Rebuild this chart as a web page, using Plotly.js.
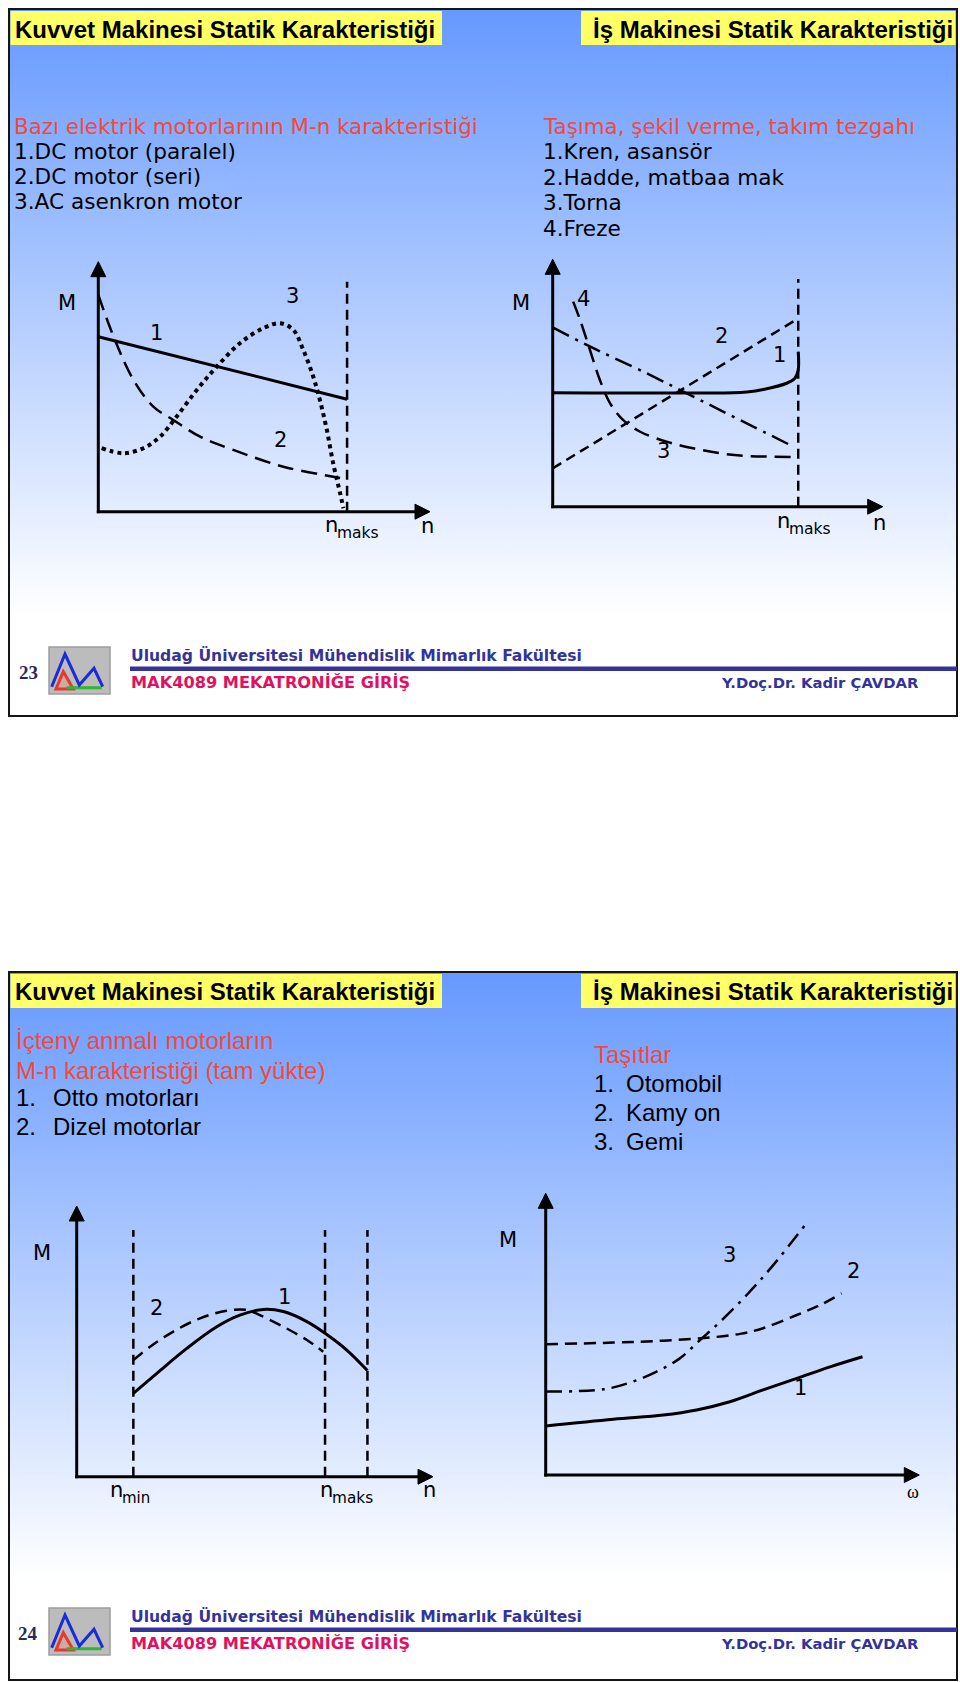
<!DOCTYPE html>
<html>
<head>
<meta charset="utf-8">
<script src="https://cdn.plot.ly/plotly-3.0.1.min.js"></script>
<style>
  html, body { margin:0; padding:0; background:#ffffff; }
  #wrap { position:relative; width:960px; height:1682px; overflow:hidden; }
  .slide { position:absolute; left:8px; width:950px; box-sizing:border-box;
           border:2.5px solid #151515;
           background:linear-gradient(to bottom, #6699ff 0%, #ffffff 86%, #ffffff 100%); }
  #plot { position:absolute; left:0; top:0; width:960px; height:1682px; }
</style>
</head>
<body>
<div id="wrap">
  <div class="slide" style="top:8px;height:709px;"></div>
  <div class="slide" style="top:971px;height:710px;"></div>
  <div id="plot"></div>
</div>
<script>
// ---------------- DATA ----------------
// Slide texts
const slideTitlesLeft  = "Kuvvet Makinesi Statik Karakteristiği";
const slideTitlesRight = "İş Makinesi Statik Karakteristiği";
const s1LeftHeader = "Bazı elektrik motorlarının M-n karakteristiği";
const s1LeftItems  = ["1.DC motor (paralel)", "2.DC motor (seri)", "3.AC asenkron motor"];
const s1RightHeader = "Taşıma, şekil verme, takım tezgahı";
const s1RightItems  = ["1.Kren, asansör", "2.Hadde, matbaa mak", "3.Torna", "4.Freze"];
const s2LeftHeader = ["İçteny anmalı motorların", "M-n karakteristiği (tam yükte)"];
const s2LeftNums   = ["1.", "2."];
const s2LeftItems  = ["Otto motorları", "Dizel motorlar"];
const s2RightHeader = "Taşıtlar";
const s2RightNums   = ["1.", "2.", "3."];
const s2RightItems  = ["Otomobil", "Kamy on", "Gemi"];
const footerUni  = "Uludağ Üniversitesi Mühendislik Mimarlık Fakültesi";
const footerCourse = "MAK4089 MEKATRONİĞE GİRİŞ";
const footerAuthor = "Y.Doç.Dr. Kadir ÇAVDAR";
const pageNumbers = ["23", "24"];

// Chart 1: electric motors M-n (n: 0..100, M: 0..100)
const c1_n_dcParalel = [0, 75];
const c1_M_dcParalel = [70, 45];
const c1_n_dcSeri = [0, 5, 10.6, 16.6, 22.6, 30.7, 40.7, 55.8, 70.8, 74.9];
const c1_M_dcSeri = [86.7, 68.7, 52.7, 42, 36.7, 30, 24.7, 18, 14, 13];
const c1_n_ac = [1, 7.5, 13.6, 18.6, 23.6, 29.7, 35.7, 42.7, 49.7, 54.8, 58.8, 61.8, 64.8, 66.8, 68.9, 70.8, 72.9, 73.9];
const c1_M_ac = [25.4, 23.4, 25.4, 30, 38, 48.7, 58, 67.4, 73.4, 75.4, 72.7, 64.7, 54, 44.7, 32.7, 19.4, 7.4, 1.4];
const c1_nMaks = 75, c1_top = 92;

// Chart 2: working machines M-n
const c2_n_kren = [0, 54.7, 58.8, 63.8, 70.9, 73.4, 74.4, 74.4];
const c2_M_kren = [46.1, 46.1, 46.4, 47.4, 49.9, 51.9, 55.3, 62.7];
const c2_n_hadde = [0, 74.4];
const c2_M_hadde = [15.5, 76.1];
const c2_n_torna = [6.2, 8.3, 11.3, 14.3, 17.4, 21.4, 26.5, 34.5, 42.6, 50.7, 58.8, 66.8, 74.4];
const c2_M_torna = [82.9, 75.5, 63.3, 51.2, 41.8, 35, 30.3, 26.3, 23.6, 21.6, 20.5, 20.2, 20.0];
const c2_n_freze = [0, 10.3, 28.5, 42.6, 56.8, 72.9];
const c2_M_freze = [72.5, 65.4, 53.9, 44.5, 35, 24.3];
const c2_nMaks = 74.4, c2_top = 92;

// Chart 3: internal combustion engines
const c3_n_otto = [15.9, 22.5, 30.9, 39.3, 45.8, 52.4, 58, 64.6, 69.7, 75.8, 81.6];
const c3_M_otto = [30.8, 38.2, 47.4, 55.4, 59.7, 61.8, 61, 57.3, 53, 46.8, 39.2];
const c3_n_dizel = [15.9, 20.6, 27.1, 34.6, 42.1, 47.7, 51.4, 58, 64.6, 69.2];
const c3_M_dizel = [43.1, 48, 53.6, 58.5, 61.3, 61.6, 59.7, 55.4, 50.5, 46.2];
const c3_verticals = [15.9, 69.7, 81.6], c3_top = 91.1;

// Chart 4: vehicles M-omega
const c4_w_oto = [0, 18.1, 31.5, 40.4, 49.3, 58.2, 67.2, 76.1, 84.8];
const c4_M_oto = [17.4, 19.8, 21.3, 23.1, 26, 30.2, 34.3, 38.4, 42];
const c4_w_kamyon = [0, 18.1, 31.5, 43.1, 52, 58.2, 67.2, 73.4, 79.2];
const c4_M_kamyon = [46.4, 47, 47.7, 48.7, 50.1, 52.1, 56.8, 60.3, 64.5];
const c4_w_gemi = [0, 15.4, 22.6, 29.7, 35.9, 41.3, 46.7, 53.8, 60.9, 69.4];
const c4_M_gemi = [29.6, 30.4, 32.8, 36.7, 41.4, 47.9, 54.4, 63.9, 74.5, 88.7];

// ---------------- LAYOUT HELPERS ----------------
const W = 960, H = 1682;
const X = p => p / W;
const Y = p => 1 - p / H;

// chart frames: origin (ox,oy) and arrow tips (xt,yt), in page pixels
const frames = [
  {ox: 98.3,  oy: 511.7,  xt: 430,   yt: 261.7,  xa: 'x',  ya: 'y'},
  {ox: 552.7, oy: 506.7,  xt: 882.7, yt: 259.3,  xa: 'x2', ya: 'y2'},
  {ox: 76.7,  oy: 1476.7, xt: 433,   yt: 1206,   xa: 'x3', ya: 'y3'},
  {ox: 545.7, oy: 1475,   xt: 919.3, yt: 1193.3, xa: 'x4', ya: 'y4'}
];

const layout = {
  width: W, height: H,
  margin: {l: 0, r: 0, t: 0, b: 0},
  paper_bgcolor: 'rgba(0,0,0,0)',
  plot_bgcolor: 'rgba(0,0,0,0)',
  showlegend: false,
  shapes: [], annotations: []
};

frames.forEach((f, i) => {
  const sx = (f.xt - f.ox) / 100, sy = (f.oy - f.yt) / 100;
  const k = i === 0 ? '' : String(i + 1);
  layout['xaxis' + k] = {domain: [X(f.ox - 10 * sx), X(f.ox + 110 * sx)], range: [-10, 110],
    visible: false, fixedrange: true, anchor: 'y' + k};
  layout['yaxis' + k] = {domain: [Y(f.oy + 10 * sy), Y(f.oy - 110 * sy)], range: [-10, 110],
    visible: false, fixedrange: true, anchor: 'x' + k};
  // axes with arrows
  layout.shapes.push({type: 'line', xref: 'paper', yref: 'paper', x0: X(f.ox), y0: Y(f.oy + 1.5), x1: X(f.ox), y1: Y(f.yt + 12), line: {color: '#000', width: 3}});
  layout.shapes.push({type: 'line', xref: 'paper', yref: 'paper', x0: X(f.ox - 1.5), y0: Y(f.oy), x1: X(f.xt - 12), y1: Y(f.oy), line: {color: '#000', width: 3}});
  layout.shapes.push({type: 'path', xref: 'paper', yref: 'paper', fillcolor: '#000', line: {color: '#000', width: 1},
    path: `M ${X(f.ox)},${Y(f.yt)} L ${X(f.ox - 7.5)},${Y(f.yt + 15)} L ${X(f.ox + 7.5)},${Y(f.yt + 15)} Z`});
  layout.shapes.push({type: 'path', xref: 'paper', yref: 'paper', fillcolor: '#000', line: {color: '#000', width: 1},
    path: `M ${X(f.xt)},${Y(f.oy)} L ${X(f.xt - 15)},${Y(f.oy - 7.5)} L ${X(f.xt - 15)},${Y(f.oy + 7.5)} Z`});
});

function txt(px, py, text, o) {
  o = o || {};
  layout.annotations.push({
    xref: 'paper', yref: 'paper', x: X(px), y: Y(py), text: text, showarrow: false,
    xanchor: o.anchor || 'left', yanchor: 'middle',
    font: {family: o.family || 'DejaVu Sans', size: o.size || 21, color: o.color || '#000', weight: o.weight || 'normal'}
  });
}
// "n" with a lowered, smaller subscript word
function nSub(nx, ny, word, subSize) {
  txt(nx, ny, 'n', {size: 21});
  txt(nx + 12, ny + 8, word, {size: subSize});
}

// ---------------- TRACES ----------------
const traces = [];
function line(xs, ys, f, w, dash, shape) {
  traces.push({x: xs, y: ys, xaxis: f.xa, yaxis: f.ya, mode: 'lines', hoverinfo: 'skip',
    line: {color: '#000', width: w, dash: dash, shape: shape || 'spline', smoothing: 1}});
}
const F = frames;
// chart 1
line(c1_n_dcParalel, c1_M_dcParalel, F[0], 3, 'solid', 'linear');
line(c1_n_dcSeri, c1_M_dcSeri, F[0], 2.5, '16px,8px');
line(c1_n_ac, c1_M_ac, F[0], 4, 'dot');
line([c1_nMaks, c1_nMaks], [0, c1_top], F[0], 2.5, '10px,6px', 'linear');
// chart 2
line(c2_n_kren, c2_M_kren, F[1], 3, 'solid');
line(c2_n_hadde, c2_M_hadde, F[1], 2.5, '10px,6px', 'linear');
line(c2_n_torna, c2_M_torna, F[1], 2.5, '16px,8px');
line(c2_n_freze, c2_M_freze, F[1], 2.5, '18px,7px,3px,7px');
line([c2_nMaks, c2_nMaks], [0, c2_top], F[1], 2.5, '10px,6px', 'linear');
// chart 3
line(c3_n_otto, c3_M_otto, F[2], 3, 'solid');
line(c3_n_dizel, c3_M_dizel, F[2], 2.5, '12px,7px');
c3_verticals.forEach(v => line([v, v], [0, c3_top], F[2], 2.5, '10px,6px', 'linear'));
// chart 4
line(c4_w_oto, c4_M_oto, F[3], 3, 'solid');
line(c4_w_kamyon, c4_M_kamyon, F[3], 2.5, '12px,7px');
line(c4_w_gemi, c4_M_gemi, F[3], 2.5, '16px,7px,3px,7px');

// ---------------- SLIDE DECOR + TEXT ----------------
const slideOffsets = [0, 963];
const footerOffsets = [0, 961];
const titleFont = {family: 'Liberation Sans', size: 24, weight: 'bold'};

slideOffsets.forEach((d, s) => {
  // yellow title boxes
  layout.shapes.push({type: 'rect', xref: 'paper', yref: 'paper', x0: X(10.5), x1: X(442), y0: Y(11 + d), y1: Y(45 + d),
    fillcolor: '#ffff66', line: {width: 0}, layer: 'below'});
  layout.shapes.push({type: 'rect', xref: 'paper', yref: 'paper', x0: X(581), x1: X(955.5), y0: Y(11 + d), y1: Y(45 + d),
    fillcolor: '#ffff66', line: {width: 0}, layer: 'below'});
  txt(13, 29 + d, slideTitlesLeft, {family: titleFont.family, size: titleFont.size, weight: titleFont.weight});
  txt(955, 29 + d, slideTitlesRight, {family: titleFont.family, size: titleFont.size, weight: titleFont.weight, anchor: 'right'});

  // footer
  const e = footerOffsets[s];
  txt(28, 672 + e, pageNumbers[s], {family: 'Liberation Serif', size: 19, weight: 'bold', color: '#2a2a55', anchor: 'center'});
  // logo
  layout.shapes.push({type: 'rect', xref: 'paper', yref: 'paper', x0: X(49), x1: X(110), y0: Y(647 + e), y1: Y(694 + e),
    fillcolor: '#bcbcbc', line: {color: '#9d9d9d', width: 1.5}});
  layout.shapes.push({type: 'path', xref: 'paper', yref: 'paper', line: {color: '#e5392c', width: 3},
    fillcolor: 'rgba(235,140,130,0.35)',
    path: `M ${X(63.3)},${Y(671.7 + e)} L ${X(56)},${Y(689 + e)} L ${X(73.3)},${Y(689 + e)} Z`});
  layout.shapes.push({type: 'line', xref: 'paper', yref: 'paper', x0: X(66.7), x1: X(101.7), y0: Y(687.7 + e), y1: Y(687.7 + e),
    line: {color: '#2fb52f', width: 3}});
  layout.shapes.push({type: 'path', xref: 'paper', yref: 'paper', line: {color: '#1b2bd8', width: 3},
    path: `M ${X(51.7)},${Y(686.7 + e)} L ${X(65)},${Y(654 + e)} L ${X(79.3)},${Y(685 + e)} L ${X(94)},${Y(668.3 + e)} L ${X(102.7)},${Y(686.7 + e)}`});
  // footer line + texts
  layout.shapes.push({type: 'rect', xref: 'paper', yref: 'paper', x0: X(130), x1: X(957), y0: Y(666.5 + e), y1: Y(671 + e),
    fillcolor: '#333399', line: {width: 0}});
  txt(129, 655 + e, footerUni, {size: 15.6, weight: 'bold', color: '#333399'});
  txt(129, 682 + e, footerCourse, {size: 16.2, weight: 'bold', color: '#e0115f'});
  txt(921, 682 + e, footerAuthor, {size: 14.8, weight: 'bold', color: '#333399', anchor: 'right'});
});

// Slide 1 lists
const red = '#f04a3c';
txt(12, 126.6, s1LeftHeader, {size: 21.4, color: red});
s1LeftItems.forEach((t, i) => txt(12, [151.2, 176, 201.6][i], t, {size: 21.6}));
txt(541, 126.6, s1RightHeader, {size: 21.4, color: red});
s1RightItems.forEach((t, i) => txt(541, [151.2, 177, 202.7, 228.5][i], t, {size: 21.6}));

// Slide 2 lists
const f2 = 'Liberation Sans', z2 = 24;
txt(14, 1040.5, s2LeftHeader[0], {family: f2, size: z2, color: red});
txt(14, 1070.5, s2LeftHeader[1], {family: f2, size: z2, color: red});
s2LeftNums.forEach((t, i) => {
  txt(14, [1097.3, 1126.2][i], t, {family: f2, size: z2});
  txt(51, [1097.3, 1126.2][i], s2LeftItems[i], {family: f2, size: z2});
});
txt(592, 1054.4, s2RightHeader, {family: f2, size: z2, color: red});
s2RightNums.forEach((t, i) => {
  txt(592, [1083.3, 1112.3, 1141.2][i], t, {family: f2, size: z2});
  txt(624, [1083.3, 1112.3, 1141.2][i], s2RightItems[i], {family: f2, size: z2});
});

// Chart labels
// chart 1
txt(66.7, 303, 'M', {anchor: 'center'});
txt(156, 333, '1', {anchor: 'center'});
txt(280, 440, '2', {anchor: 'center'});
txt(292, 296, '3', {anchor: 'center'});
nSub(323, 525, 'maks', 15.5);
txt(427, 526, 'n', {anchor: 'center'});
// chart 2
txt(520.7, 303, 'M', {anchor: 'center'});
txt(583, 299, '4', {anchor: 'center'});
txt(721.7, 336, '2', {anchor: 'center'});
txt(779, 355, '1', {anchor: 'center'});
txt(663.3, 451, '3', {anchor: 'center'});
nSub(775, 521, 'maks', 15.5);
txt(879.3, 523, 'n', {anchor: 'center'});
// chart 3
txt(41.7, 1252.7, 'M', {anchor: 'center'});
txt(156, 1308.3, '2', {anchor: 'center'});
txt(284.3, 1296.7, '1', {anchor: 'center'});
nSub(107.5, 1489.5, 'min', 15);
nSub(317.5, 1489.5, 'maks', 15.3);
txt(429.3, 1490, 'n', {anchor: 'center'});
// chart 4
txt(508.3, 1240, 'M', {anchor: 'center'});
txt(729.3, 1255, '3', {anchor: 'center'});
txt(853.3, 1270.7, '2', {anchor: 'center'});
txt(800.7, 1388.3, '1', {anchor: 'center'});
txt(912.7, 1491.7, 'ω', {family: 'Liberation Serif', size: 18, anchor: 'center'});

Plotly.newPlot('plot', traces, layout, {staticPlot: true, displayModeBar: false});
</script>
</body>
</html>
